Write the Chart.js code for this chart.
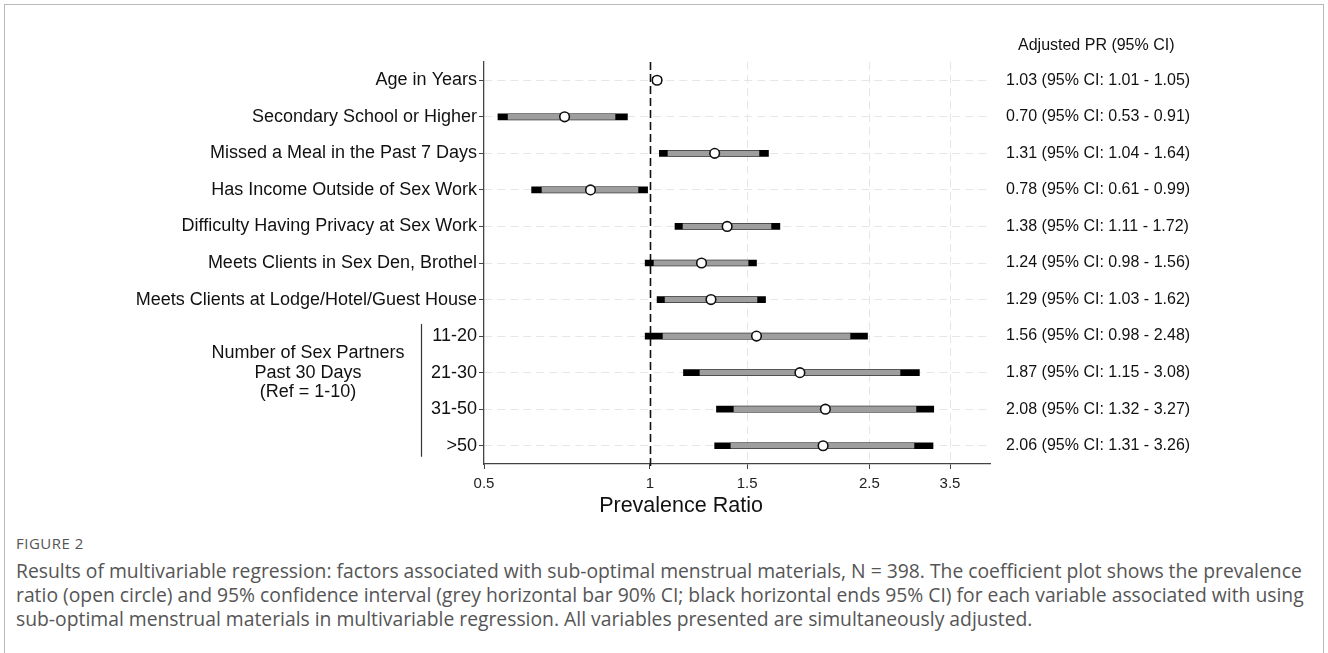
<!DOCTYPE html>
<html>
<head>
<meta charset="utf-8">
<script src="https://cdn.jsdelivr.net/npm/chart.js@4.4.1/dist/chart.umd.min.js"></script>
<style>
  html, body { margin: 0; padding: 0; background: #fff; }
  body { width: 1328px; height: 653px; position: relative; overflow: hidden; }
  #frame {
    position: absolute; left: 4px; top: 4px; width: 1318px; height: 700px;
    border-left: 1px solid #b9b9b9; border-top: 1px solid #b9b9b9; border-right: 1px solid #b9b9b9;
  }
  #plot { position: absolute; left: 0; top: 0; }
  #caption { position: absolute; left: 16px; top: 532px; color: #555; font-family: "Open Sans", sans-serif; }
  #fig { font-size: 15px; letter-spacing: 0.5px; line-height: 22px; margin-bottom: 5px; }
  .cap { font-size: 16px; line-height: 24px; white-space: nowrap; }
</style>
</head>
<body>
<div id="frame"></div>
<canvas id="plot" width="1328" height="530"></canvas>
<div id="caption">
  <div id="fig">FIGURE 2</div>
  <div class="cap" id="cap1">Results of multivariable regression: factors associated with sub-optimal menstrual materials, N = 398. The coefficient plot shows the prevalence</div>
  <div class="cap">ratio (open circle) and 95% confidence interval (grey horizontal bar 90% CI; black horizontal ends 95% CI) for each variable associated with using</div>
  <div class="cap">sub-optimal menstrual materials in multivariable regression. All variables presented are simultaneously adjusted.</div>
</div>
<script>
// Variables in the model (top to bottom)
const variables = [
  "Age in Years",
  "Secondary School or Higher",
  "Missed a Meal in the Past 7 Days",
  "Has Income Outside of Sex Work",
  "Difficulty Having Privacy at Sex Work",
  "Meets Clients in Sex Den, Brothel",
  "Meets Clients at Lodge/Hotel/Guest House",
  "11-20",
  "21-30",
  "31-50",
  ">50"
];
// Adjusted prevalence ratios
const prevalenceRatio = [1.03, 0.70, 1.31, 0.78, 1.38, 1.24, 1.29, 1.56, 1.87, 2.08, 2.06];
// 95% confidence limits
const ci95Low  = [1.01, 0.53, 1.04, 0.61, 1.11, 0.98, 1.03, 0.98, 1.15, 1.32, 1.31];
const ci95High = [1.05, 0.91, 1.64, 0.99, 1.72, 1.56, 1.62, 2.48, 3.08, 3.27, 3.26];
// 90% confidence limits
const ci90Low  = [1.014, 0.553, 1.078, 0.637, 1.148, 1.017, 1.065, 1.056, 1.232, 1.420, 1.402];
const ci90High = [1.046, 0.864, 1.576, 0.951, 1.657, 1.506, 1.563, 2.305, 2.840, 3.036, 3.011];
// Tick labels on the prevalence-ratio axis
const xTicks = [0.5, 1, 1.5, 2.5, 3.5];
// Grouped rows
const groupLabel = ["Number of Sex Partners", "Past 30 Days", "(Ref = 1-10)"];
const groupRows = ["11-20", "21-30", "31-50", ">50"];
const columnHeader = "Adjusted PR (95% CI)";

const fmt = v => v.toFixed(2);
const estimateText = variables.map((_, i) =>
  `${fmt(prevalenceRatio[i])} (95% CI: ${fmt(ci95Low[i])} - ${fmt(ci95High[i])})`);

const LABEL_FONT = '"Liberation Sans", Arial, sans-serif';

const annotations = {
  id: 'annotations',
  beforeDatasetsDraw(chart) {
    const { ctx, chartArea, scales: { x } } = chart;
    // reference line at PR = 1
    const px = Math.round(x.getPixelForValue(1)) + 0.5;
    ctx.save();
    ctx.strokeStyle = '#111';
    ctx.lineWidth = 1.6;
    ctx.setLineDash([8, 4]);
    ctx.beginPath();
    ctx.moveTo(px, chartArea.top);
    ctx.lineTo(px, chartArea.bottom + 5);
    ctx.stroke();
    ctx.restore();
  },
  afterDraw(chart) {
    const { ctx, chartArea, scales: { y } } = chart;
    ctx.save();
    ctx.fillStyle = '#111';
    ctx.textBaseline = 'middle';
    // estimates column
    ctx.font = '16px ' + LABEL_FONT;
    ctx.textAlign = 'left';
    ctx.fillText(columnHeader, chartArea.right + 28, 46);
    estimateText.forEach((t, i) => {
      ctx.fillText(t, chartArea.right + 16, y.getPixelForValue(i));
    });
    // grouped row label with bracket bar
    const first = y.getPixelForValue(variables.indexOf(groupRows[0]));
    const last = y.getPixelForValue(variables.indexOf(groupRows[groupRows.length - 1]));
    const mid = y.getPixelForValue(variables.indexOf(groupRows[1]));
    ctx.strokeStyle = '#333';
    ctx.lineWidth = 1.2;
    ctx.beginPath();
    ctx.moveTo(421.5, first - 12);
    ctx.lineTo(421.5, last + 11);
    ctx.stroke();
    ctx.font = '18px ' + LABEL_FONT;
    ctx.textAlign = 'center';
    groupLabel.forEach((t, k) => {
      ctx.fillText(t, 308, mid + (k - 1) * 19.5);
    });
    // axis title
    ctx.font = '21.5px ' + LABEL_FONT;
    ctx.fillText('Prevalence Ratio', 681, 506);
    ctx.restore();
  }
};

const gridGrey = '#e6e6e6';

new Chart(document.getElementById('plot'), {
  type: 'bar',
  data: {
    labels: variables,
    datasets: [
      {
        type: 'line',
        label: 'PR',
        data: variables.map((v, i) => ({ x: prevalenceRatio[i], y: v })),
        showLine: false,
        pointRadius: 4.8,
        pointBackgroundColor: '#fff',
        pointBorderColor: '#111',
        pointBorderWidth: 1.6,
        order: 0
      },
      {
        label: '90% CI',
        data: variables.map((_, i) => [ci90Low[i], ci90High[i]]),
        backgroundColor: '#9e9e9e',
        barThickness: 5,
        grouped: false,
        borderWidth: 0,
        order: 1
      },
      {
        label: '95% CI',
        data: variables.map((_, i) => [ci95Low[i], ci95High[i]]),
        backgroundColor: '#000',
        barThickness: 6,
        grouped: false,
        borderWidth: 0,
        order: 2
      }
    ]
  },
  options: {
    indexAxis: 'y',
    responsive: false,
    animation: false,
    events: [],
    layout: { padding: { left: 0, top: 62, right: 338, bottom: 0 } },
    plugins: { legend: { display: false }, tooltip: { enabled: false }, title: { display: false } },
    scales: {
      x: {
        type: 'logarithmic',
        min: 0.5,
        max: 4.136,
        afterBuildTicks: s => { s.ticks = xTicks.map(v => ({ value: v })); },
        afterFit: s => { s.height = 66; },
        ticks: {
          autoSkip: false,
          maxRotation: 0,
          padding: 6,
          color: '#222',
          font: { family: '"Liberation Sans Narrow", "Liberation Sans", Arial', size: 15 },
          callback: v => String(v)
        },
        grid: {
          color: c => (c.tick && (c.tick.value === 1 || c.tick.value === 0.5)) ? 'rgba(0,0,0,0)' : gridGrey,
          tickColor: '#444',
          tickLength: 5,
          lineWidth: 1
        },
        border: { color: '#444', width: 1.3, dash: [8, 5] }
      },
      y: {
        type: 'category',
        offset: true,
        afterFit: s => { s.width = 484; },
        ticks: {
          autoSkip: false,
          padding: 2,
          color: '#111',
          font: { family: LABEL_FONT, size: 18 }
        },
        grid: {
          offset: false,
          color: gridGrey,
          tickColor: '#444',
          tickLength: 5,
          lineWidth: 1
        },
        border: { color: '#444', width: 1.3, dash: [8, 5] }
      }
    }
  },
  plugins: [annotations]
});

// caption: size the text so the first line spans the caption width
document.fonts.ready.then(() => {
  const line = document.getElementById('cap1');
  const w = line.getBoundingClientRect().width;
  const size = 16 * 1288 / w;
  document.querySelectorAll('.cap').forEach(el => { el.style.fontSize = size.toFixed(2) + 'px'; });
});
</script>
</body>
</html>
